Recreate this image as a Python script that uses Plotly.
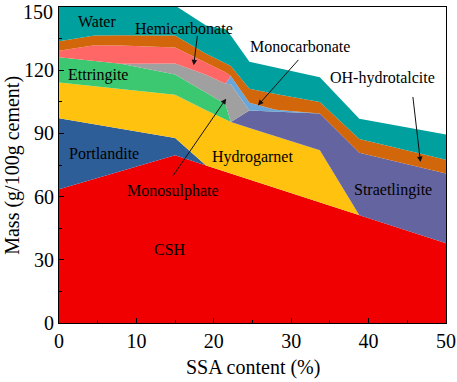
import plotly.graph_objects as go

# SSA content (%)
ssa = [0, 4.6, 8, 15, 19, 21.5, 22.2, 24.6, 28, 33.7, 38.8, 50]

# phase masses (g/100g cement), stacked bottom -> top
csh = [63.5, 68.4, 72.1, 79.6, 74.8, 71.8, 71.0, 68.1, 64.1, 57.3, 51.2, 37.8]
portlandite = [33.7, 25.9, 20.1, 8.2, 0, 0, 0, 0, 0, 0, 0, 0]
hydrogarnet = [17.0, 18.1, 18.9, 20.5, 26.2, 24.6, 24.4, 24.5, 24.5, 24.7, 0, 0]
straetlingite = [0, 0, 0, 0, 0, 0, 0, 8.3, 11.8, 17.4, 29.6, 33.2]
ettringite = [12.0, 12.0, 11.95, 9.7, 8.5, 7.5, 0, 0, 0, 0, 0, 0]
monosulphate = [0, 0, 0, 5.2, 8.3, 9.7, 17.9, 0, 0, 0, 0, 0]
monocarbonate = [0, 0, 0, 0, 0, 0, 3.9, 3.6, 0.8, 0, 0, 0]
hemicarbonate = [3.0, 7.4, 8.7, 7.6, 5.7, 5.4, 0, 0, 0, 0, 0, 0]
hydrotalcite = [4.6, 4.7, 4.8, 5.7, 4.3, 4.2, 4.8, 6.7, 7.5, 5.5, 6.5, 6.5]
water = [18.2, 15.5, 15.5, 14.2, 13.4, 16.3, 14.5, 12.8, 12.6, 11.8, 9.7, 12.0]

x_ticks = [0, 10, 20, 30, 40, 50]
y_ticks = [0, 30, 60, 90, 120, 150]

layers = [
    ("CSH", csh, "#F00000"),
    ("Portlandite", portlandite, "#2E5E98"),
    ("Hydrogarnet", hydrogarnet, "#FFC20E"),
    ("Straetlingite", straetlingite, "#6464A0"),
    ("Ettringite", ettringite, "#3CC870"),
    ("Monosulphate", monosulphate, "#A0A0A0"),
    ("Monocarbonate", monocarbonate, "#6AA6DA"),
    ("Hemicarbonate", hemicarbonate, "#FF6666"),
    ("OH-hydrotalcite", hydrotalcite, "#D2660A"),
    ("Water", water, "#00A09E"),
]

fig = go.Figure()
for name, vals, col in layers:
    fig.add_trace(go.Scatter(
        x=ssa, y=vals, name=name, mode="lines", stackgroup="one",
        line=dict(width=0, color=col), fillcolor=col, hoverinfo="skip"))

FONT = "Liberation Serif"
labels = [
    ("Water", 4.9, 143.1),
    ("Ettringite", 5.1, 117.5),
    ("Portlandite", 5.8, 80.6),
    ("Hydrogarnet", 25.0, 78.7),
    ("CSH", 14.3, 35.1),
    ("Straetlingite", 43.2, 63.0),
    ("Hemicarbonate", 16.1, 140.0),
    ("Monosulphate", 14.7, 62.6),
    ("Monocarbonate", 31.2, 131.3),
    ("OH-hydrotalcite", 41.8, 116.1),
]
for t, xx, yy in labels:
    fig.add_annotation(x=xx, y=yy, text=t, showarrow=False,
                       font=dict(family=FONT, size=16, color="black"))

arrows = [
    (17.9, 137.0, 17.4, 122.3),
    (14.6, 69.2, 21.6, 106.5),
    (31.1, 125.6, 25.7, 103.3),
    (45.7, 108.0, 46.7, 76.4),
]
for x0, y0, x1, y1 in arrows:
    fig.add_annotation(x=x1, y=y1, ax=x0, ay=y0, axref="x", ayref="y",
                       xref="x", yref="y", text="", showarrow=True,
                       arrowhead=2, arrowsize=1.1, arrowwidth=1,
                       arrowcolor="#111111", standoff=0, startstandoff=0)

# axis titles
fig.add_annotation(xref="paper", yref="paper", x=0.5, y=-0.142, text="SSA content (%)",
                   showarrow=False, yanchor="middle", xanchor="center",
                   font=dict(family=FONT, size=20, color="black"))
fig.add_annotation(xref="paper", yref="paper", x=-0.122, y=0.5, text="Mass (g/100g cement)",
                   showarrow=False, textangle=-90, yanchor="middle", xanchor="center",
                   font=dict(family=FONT, size=20, color="black"))

# top y tick label (plotly drops it at the paper edge)
fig.add_annotation(xref="paper", yref="y", x=0, y=y_ticks[-1], text=str(y_ticks[-1]),
                   showarrow=False, xanchor="right", yanchor="middle", xshift=-4, yshift=-5,
                   font=dict(family=FONT, size=20, color="black"))

axis_common = dict(showline=True, linecolor="black", linewidth=1, mirror=True,
                   ticks="inside", ticklen=5, tickcolor="black", showgrid=False,
                   zeroline=False, automargin=False,
                   tickfont=dict(family=FONT, size=20, color="black"))

fig.update_xaxes(range=[0, 50], tickvals=x_ticks,
                 minor=dict(dtick=5, ticks="inside", ticklen=3, tickcolor="black"),
                 **axis_common)
fig.update_yaxes(range=[0, 150], tickvals=y_ticks[:-1] + [150],
                 ticktext=[str(v) for v in y_ticks[:-1]] + [""],
                 minor=dict(dtick=15, ticks="inside", ticklen=3, tickcolor="black"),
                 **axis_common)

fig.update_layout(width=457, height=382, margin=dict(l=59, r=11, t=7, b=59),
                  plot_bgcolor="white", paper_bgcolor="white", showlegend=False)

fig.write_html("out.html", config={"displayModeBar": False},
               post_script="document.body.style.margin='0';document.body.style.padding='0';")
